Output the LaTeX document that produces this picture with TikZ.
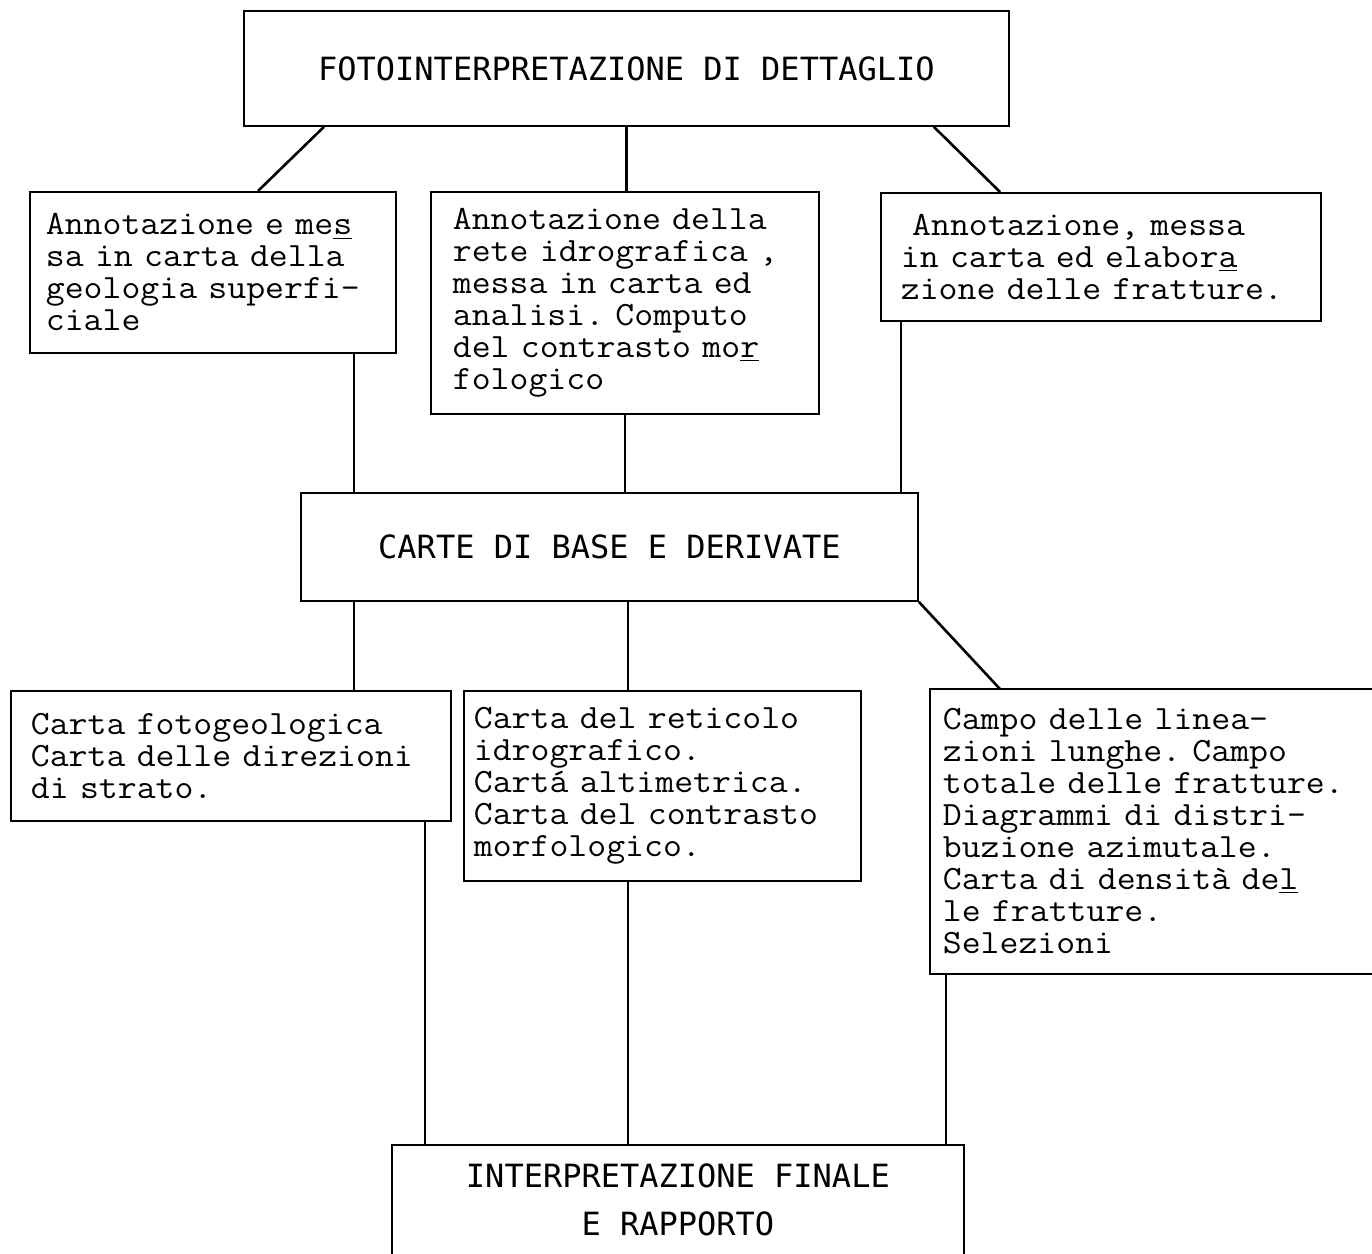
\documentclass[tikz,border=0pt]{standalone}
\usepackage{fontspec}
\newfontfamily\titlefont{DejaVu Sans Mono}
\newfontfamily\boxfont[FakeStretch=1.08]{Latin Modern Mono}
\usetikzlibrary{calc}

\tikzset{
  box/.style={draw, line width=0.9pt, anchor=north west, inner xsep=0pt, align=left,
    font=\boxfont\fontsize{17}{16}\selectfont\frenchspacing},
  titlebox/.style={draw, line width=0.9pt, anchor=north west, align=center,
    font=\titlefont\fontsize{16}{24}\selectfont},
  lmargin/.style={execute at begin node={\leftskip=#1\relax\lineskiplimit=-20pt\relax}},
  link/.style={line width=1.3pt},
}

\begin{document}
\begin{tikzpicture}[x=0.5pt, y=-0.5pt]
  \useasboundingbox (0,0) rectangle (1372,1254);
  % livello 1
  \node[titlebox, minimum width=382.5pt, minimum height=57.5pt] (foto) at (243,10)
    {FOTOINTERPRETAZIONE DI DETTAGLIO};
  % livello 2
  \node[box, text width=183pt, minimum height=80.5pt, lmargin=8pt] (geol) at (29,191)
    {Annotazione e me\underline{s}\\sa in carta della\\geologia superfi-\\ciale};
  \node[box, text width=194pt, minimum height=111pt, lmargin=11pt] (idro) at (430,191)
    {Annotazione della\\rete idrografica ,\\messa in carta ed\\analisi. Computo\\del contrasto mo\underline{r}\\fologico};
  \node[box, text width=220pt, minimum height=64pt, lmargin=10pt] (fratt) at (880,192)
    {~Annotazione, messa\\in carta ed elabor\underline{a}\\zione delle fratture.};
  % livello 3
  \node[titlebox, minimum width=308.5pt, minimum height=54pt] (carte) at (300,492)
    {CARTE DI BASE E DERIVATE};
  % livello 4
  \node[box, text width=220pt, minimum height=65pt, lmargin=10pt] (fotogeo) at (10,690)
    {Carta fotogeologica\\Carta delle direzioni\\di strato.};
  \node[box, text width=198.5pt, minimum height=95pt, lmargin=5pt] (retic) at (463,690)
    {Carta del reticolo\\idrografico.\\Cartá altimetrica.\\Carta del contrasto\\morfologico.};
  \node[box, draw=none, text width=220.5pt, minimum height=141.5pt, lmargin=6pt] (campo) at (930,689)
    {Campo delle linea-\\zioni lunghe. Campo\\totale delle fratture.\\Diagrammi di distri-\\buzione azimutale.\\Carta di densità de\underline{l}\\le fratture.\\Selezioni};
  \draw[line width=0.9pt] (campo.north east) -| (campo.south west) -- (campo.south east);
  % livello 5
  \node[titlebox, draw=none, minimum width=285pt, minimum height=54pt] (finale) at (392,1145)
    {INTERPRETAZIONE FINALE\\E RAPPORTO};
  \draw[line width=0.9pt] (finale.south west) |- (finale.north east) -- (finale.south east);

  % collegamenti
  \draw[link] ($(foto.south west)+(81,0)$) -- ($(geol.north west)+(229,0)$);
  \draw[link] (foto.south) -- (foto.south |- idro.north);
  \draw[link] ($(foto.south east)+(-76,0)$) -- ($(fratt.north west)+(120,0)$);
  \draw[link] ($(geol.south west)+(325,0)$) coordinate (g1) -- (g1 |- carte.north);
  \draw[link] (idro.south) -- (idro.south |- carte.north);
  \draw[link] ($(fratt.south west)+(21,0)$) coordinate (f1) -- (f1 |- carte.north);
  \draw[link] ($(carte.south west)+(54,0)$) coordinate (k1) -- (k1 |- fotogeo.north);
  \draw[link] ($(carte.south west)+(328,0)$) coordinate (k2) -- (k2 |- retic.north);
  \draw[link] (carte.south east) -- ($(campo.north west)+(70,0)$);
  \draw[link] ($(fotogeo.south west)+(415,0)$) coordinate (p1) -- (p1 |- finale.north);
  \draw[link] ($(retic.south west)+(165,0)$) coordinate (p2) -- (p2 |- finale.north);
  \draw[link] ($(campo.south west)+(16,0)$) coordinate (p3) -- (p3 |- finale.north);
\end{tikzpicture}
\end{document}
